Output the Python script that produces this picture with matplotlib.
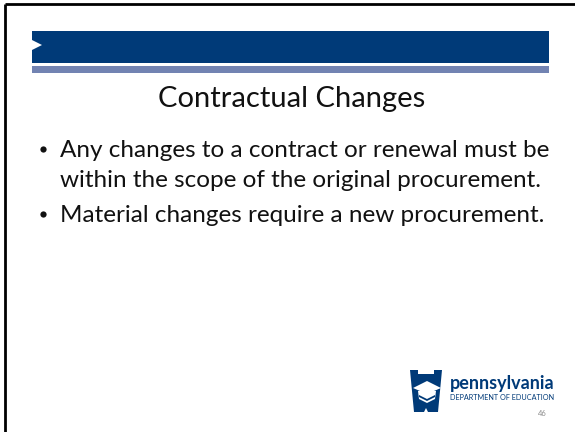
import matplotlib.pyplot as plt
from matplotlib.patches import Rectangle, Polygon

# slide content
title = "Contractual Changes"
bullets = [
    ["Any changes to a contract or renewal must be",
     "within the scope of the original procurement."],
    ["Material changes require a new procurement."],
]
logo_name = "pennsylvania"
logo_dept = "DEPARTMENT OF EDUCATION"
page_no = "46"

navy = "#003a78"
steel = "#7283b2"
ink = "#111111"

plt.rcParams['font.family'] = ['Lato', 'DejaVu Sans']

fig = plt.figure(figsize=(5.75, 4.32), dpi=100)
ax = fig.add_axes([0, 0, 1, 1])
ax.set_xlim(0, 575)
ax.set_ylim(432, 0)
ax.axis("off")

# slide frame (top and left edges)
ax.plot([4.5, 575], [3.5, 3.5], color="black", lw=2, solid_capstyle="butt")
ax.plot([4.5, 4.5], [3.5, 432], color="black", lw=2, solid_capstyle="butt")

# header bars
ax.add_patch(Rectangle((32, 31), 517, 32, color=navy, lw=0))
ax.add_patch(Rectangle((32, 66), 517, 7, color=steel, lw=0))
ax.add_patch(Polygon([(32, 40), (42, 45), (32, 50)], closed=True, color="white", lw=0))

ax.text(291.5, 107, title, ha="center", va="baseline", fontsize=21, color=ink)

y = 157
for item in bullets:
    ax.plot([43], [y - 8.5], marker="o", ms=4.5, color=ink, mew=0)
    for line in item:
        ax.text(60, y, line, ha="left", va="baseline", fontsize=17.5, color=ink)
        y += 30
    y += 5

# keystone logo
key = [(410, 370), (418, 370), (418, 374), (434, 374), (434, 370), (442, 370),
       (438, 412), (428, 412), (426, 408), (424, 412), (414, 412)]
ax.add_patch(Polygon(key, closed=True, color=navy, lw=0))
cap = [(413, 388), (427, 381), (441, 388), (427, 394)]
ax.add_patch(Polygon(cap, closed=True, color="white", lw=0))
ax.add_patch(Polygon([(418, 391), (436, 391), (435, 399), (427, 403), (419, 399)],
                     closed=True, color="white", lw=0))
ax.add_patch(Polygon([(419, 395), (427, 399), (435, 395), (435, 397), (427, 401), (419, 397)],
                     closed=True, color=navy, lw=0))

ax.text(450, 384, logo_name, ha="left", va="center", fontsize=13, fontweight="bold", color=navy)
ax.text(450, 398, logo_dept, ha="left", va="center", fontsize=5.2, color=navy)
ax.text(542, 414, page_no, ha="center", va="center", fontsize=5.5, color="#8c8c8c")

fig.savefig("out.png", dpi=100)
